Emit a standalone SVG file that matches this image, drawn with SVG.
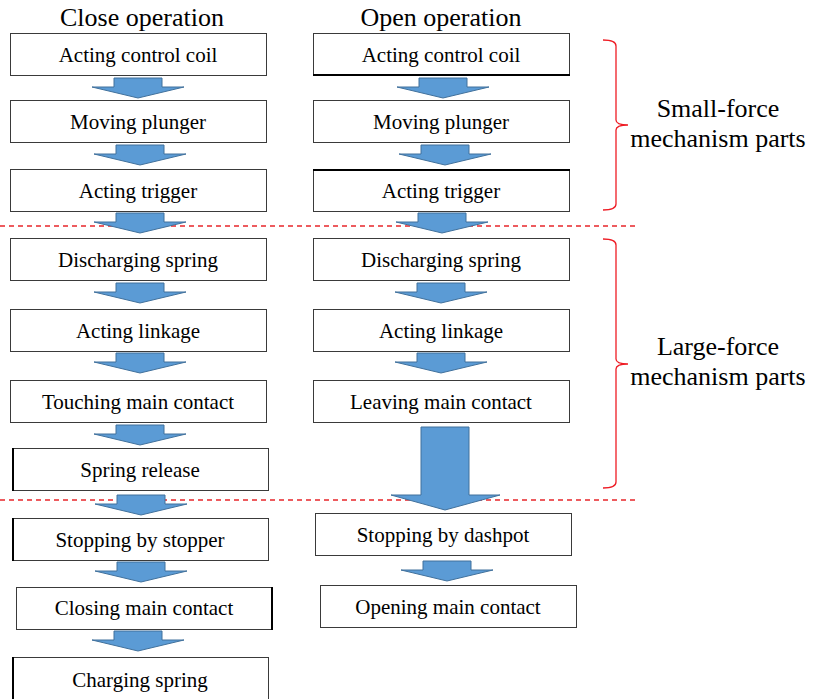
<svg xmlns="http://www.w3.org/2000/svg" width="826" height="699" viewBox="0 0 826 699" font-family="'Liberation Serif', 'Times New Roman', serif">
  <style>
    .box { fill: #ffffff; stroke: #3a3a3a; stroke-width: 1; }
    .edge { stroke: #000000; stroke-width: 2; }
    .sep { stroke: #e8262a; stroke-width: 1.3; stroke-dasharray: 5 4; fill: none; }
    .brace { stroke: #ee1c24; stroke-width: 1.3; fill: none; }
    .arrow { fill: #5b9bd5; stroke: #41719c; stroke-width: 1; }
  </style>
  <defs>
    <!-- small block arrow, origin at top centre of the shaft -->
    <path id="blk" d="M-24,0 H24 V9 H46 L0,20 L-46,9 H-24 Z"/>
  </defs>

  <rect width="826" height="699" fill="#ffffff"/>

  <!-- column headings -->
  <g font-size="26" fill="#000000" text-anchor="middle">
    <text x="142" y="26">Close operation</text>
    <text x="441" y="26">Open operation</text>
  </g>

  <!-- stage separators -->
  <line class="sep" x1="0" y1="226" x2="636" y2="226"/>
  <line class="sep" x1="0" y1="500" x2="636" y2="500"/>

  <!-- connectors -->
  <g id="connectors">
    <g class="arrow">
      <use href="#blk" x="138" y="78"/>
      <use href="#blk" x="140" y="145"/>
      <use href="#blk" x="140" y="213"/>
      <use href="#blk" x="140" y="283"/>
      <use href="#blk" x="140" y="353"/>
      <use href="#blk" x="140" y="425"/>
      <use href="#blk" x="141" y="495"/>
      <use href="#blk" x="141" y="562"/>
      <use href="#blk" x="138" y="631"/>

      <use href="#blk" x="443" y="78"/>
      <use href="#blk" x="445" y="145"/>
      <use href="#blk" x="442" y="213"/>
      <use href="#blk" x="441" y="283"/>
      <use href="#blk" x="441" y="353"/>
      <use href="#blk" x="447" y="561"/>
      <!-- long arrow across the stage boundary -->
      <path d="M421,427 H469 V495 H500 L445,510 L391,495 H421 Z"/>
    </g>
  </g>

  <g font-size="21" fill="#000000" text-anchor="middle">
    <!-- close operation column -->
    <g id="c1"><rect class="box" x="10.5" y="33.5" width="256" height="42"/><text x="138" y="62">Acting control coil</text></g>
    <g id="c2"><rect class="box" x="10.5" y="100.5" width="256" height="42"/><text x="138" y="129">Moving plunger</text></g>
    <g id="c3"><rect class="box" x="10.5" y="169.5" width="256" height="42"/><text x="138" y="198">Acting trigger</text></g>
    <g id="c4"><rect class="box" x="10.5" y="238.5" width="256" height="42"/><text x="138" y="267">Discharging spring</text></g>
    <g id="c5"><rect class="box" x="10.5" y="309.5" width="256" height="42"/><text x="138" y="338">Acting linkage</text></g>
    <g id="c6"><rect class="box" x="10.5" y="380.5" width="256" height="42"/><text x="138" y="409">Touching main contact</text></g>
    <g id="c7"><rect class="box" x="12.5" y="448.5" width="256" height="42"/><line class="edge" x1="13" y1="448" x2="13" y2="491"/><text x="140" y="477">Spring release</text></g>
    <g id="c8"><rect class="box" x="12.5" y="518.5" width="256" height="42"/><line class="edge" x1="13" y1="518" x2="13" y2="561"/><text x="140" y="547">Stopping by stopper</text></g>
    <g id="c9"><rect class="box" x="16.5" y="587.5" width="256" height="42"/><line class="edge" x1="272" y1="587" x2="272" y2="630"/><text x="144" y="615">Closing main contact</text></g>
    <g id="c10"><rect class="box" x="12.5" y="657.5" width="256" height="45"/><line class="edge" x1="13" y1="657" x2="13" y2="699"/><text x="140" y="687">Charging spring</text></g>

    <!-- open operation column -->
    <g id="o1"><rect class="box" x="313.5" y="33.5" width="256" height="42"/><line class="edge" x1="313" y1="75" x2="570" y2="75"/><text x="441" y="62">Acting control coil</text></g>
    <g id="o2"><rect class="box" x="313.5" y="100.5" width="256" height="42"/><text x="441" y="129">Moving plunger</text></g>
    <g id="o3"><rect class="box" x="313.5" y="169.5" width="256" height="42"/><line class="edge" x1="313" y1="170" x2="570" y2="170"/><text x="441" y="198">Acting trigger</text></g>
    <g id="o4"><rect class="box" x="313.5" y="238.5" width="256" height="42"/><text x="441" y="267">Discharging spring</text></g>
    <g id="o5"><rect class="box" x="313.5" y="309.5" width="256" height="42"/><text x="441" y="338">Acting linkage</text></g>
    <g id="o6"><rect class="box" x="313.5" y="380.5" width="256" height="42"/><text x="441" y="409">Leaving main contact</text></g>
    <g id="o7"><rect class="box" x="315.5" y="513.5" width="256" height="42"/><text x="443" y="542">Stopping by dashpot</text></g>
    <g id="o8"><rect class="box" x="320.5" y="585.5" width="256" height="42"/><text x="448" y="614">Opening main contact</text></g>
  </g>

  <!-- braces and their notes -->
  <g font-size="26" fill="#000000" text-anchor="middle">
    <g id="small-force">
      <path class="brace" d="M603,40 Q616,40 616,46 V120 Q616,125 628,125 Q616,125 616,130 V204 Q616,210 603,210"/>
      <text x="718" y="117">Small-force</text>
      <text x="718" y="147">mechanism parts</text>
    </g>
    <g id="large-force">
      <path class="brace" d="M603,239 Q616,239 616,245 V359 Q616,364 628,364 Q616,364 616,369 V482 Q616,488 603,488"/>
      <text x="718" y="355">Large-force</text>
      <text x="718" y="385">mechanism parts</text>
    </g>
  </g>
</svg>
